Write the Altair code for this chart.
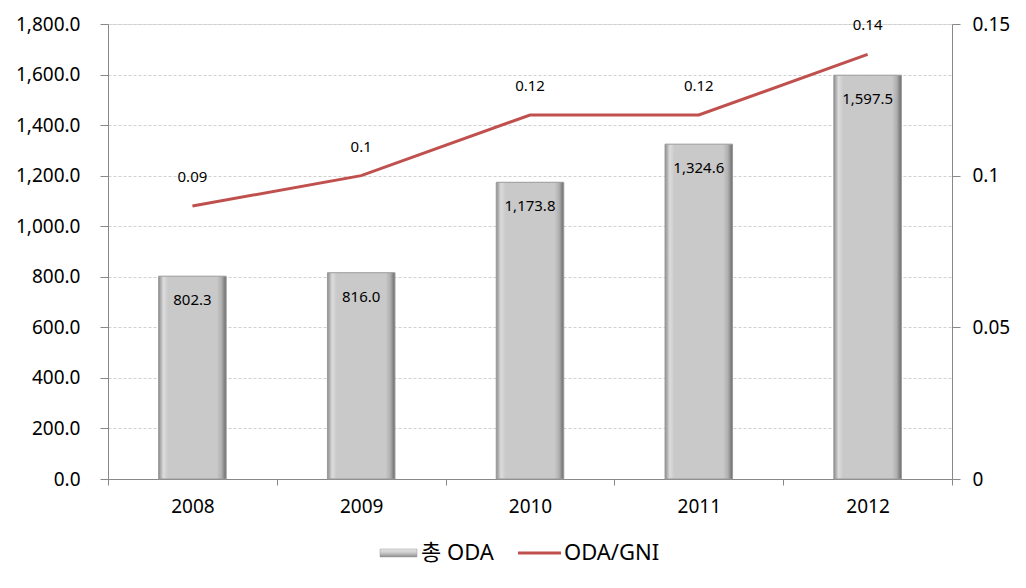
import altair as alt
import pandas as pd

years = ["2008", "2009", "2010", "2011", "2012"]
oda_total = [802.3, 816.0, 1173.8, 1324.6, 1597.5]
oda_gni = [0.09, 0.1, 0.12, 0.12, 0.14]

df = pd.DataFrame({"year": years, "oda": oda_total, "gni": oda_gni})
FONT = "Noto Sans, Noto Sans CJK KR"

x = alt.X("year:N", title=None,
          scale=alt.Scale(paddingInner=0, paddingOuter=0),
          axis=alt.Axis(labelAngle=0, labelFontSize=19, labelFont=FONT, labelColor="#000",
                        domainColor="#888", tickColor="#888", tickSize=6, tickBand="extent",
                        labelPadding=12, grid=False))

grad = alt.Gradient(gradient="linear", x1=0, x2=1, y1=0, y2=0, stops=[
    alt.GradientStop(offset=0, color="#8c8c8c"),
    alt.GradientStop(offset=0.07, color="#dcdcdc"),
    alt.GradientStop(offset=0.14, color="#c9c9c9"),
    alt.GradientStop(offset=0.86, color="#c9c9c9"),
    alt.GradientStop(offset=0.93, color="#b0b0b0"),
    alt.GradientStop(offset=1, color="#6a6a6a"),
])

yl = alt.Y("oda:Q", title=None,
           scale=alt.Scale(domain=[0, 1800], nice=False),
           axis=alt.Axis(values=list(range(0, 1801, 200)), format=",.1f", labelFontSize=19,
                         labelFont=FONT, labelColor="#000", domainColor="#888", tickColor="#888",
                         tickSize=8, gridColor="#d0d0d0", gridDash=[3, 2], labelPadding=20,
                         minExtent=95, maxExtent=95))

bars = alt.Chart(df).mark_bar(color=grad, stroke="#9a9a9a", strokeWidth=1,
                              width=alt.RelativeBandSize(0.4)).encode(x=x, y=yl)
bar_text = alt.Chart(df).mark_text(dy=24, baseline="middle", fontSize=15, font=FONT, color="#000").encode(
    x=x, y=alt.Y("oda:Q"), text=alt.Text("oda:Q", format=",.1f"))
left = alt.layer(bars, bar_text)

yr = alt.Y("gni:Q", title=None,
           scale=alt.Scale(domain=[0, 0.15], nice=False, zero=True),
           axis=alt.Axis(orient="right", values=[0, 0.05, 0.1, 0.15], format="~g", labelFontSize=19,
                         labelFont=FONT, labelColor="#000", domainColor="#888", tickColor="#888",
                         tickSize=8, grid=False, labelPadding=12))

line = alt.Chart(df).mark_line(color="#c0504d", strokeWidth=3).encode(x=x, y=yr)
line_text = alt.Chart(df).mark_text(dy=-29, baseline="middle", fontSize=15, font=FONT, color="#000").encode(
    x=x, y=alt.Y("gni:Q"), text=alt.Text("gni:Q", format="~g"))
right = alt.layer(line, line_text)

leg = pd.DataFrame({"a": [1]})
sw = alt.Chart(leg).mark_rect(color=alt.Gradient(gradient="linear", x1=0, x2=0, y1=0, y2=1, stops=[
    alt.GradientStop(offset=0, color="#e8e8e8"),
    alt.GradientStop(offset=0.5, color="#c9c9c9"),
    alt.GradientStop(offset=1, color="#8c8c8c")]), stroke="#999", strokeWidth=0.5).encode(
    x=alt.value(272), x2=alt.value(309), y=alt.value(525), y2=alt.value(533))
t1 = alt.Chart(leg).mark_text(align="left", baseline="middle", fontSize=22, font=FONT, color="#000").encode(
    x=alt.value(313), y=alt.value(529), text=alt.value("총 ODA"))
ln = alt.Chart(leg).mark_rule(color="#c0504d", strokeWidth=3).encode(
    x=alt.value(410), x2=alt.value(453), y=alt.value(529))
t2 = alt.Chart(leg).mark_text(align="left", baseline="middle", fontSize=22, font=FONT, color="#000").encode(
    x=alt.value(456), y=alt.value(529), text=alt.value("ODA/GNI"))

chart = alt.layer(left, right, sw, t1, ln, t2).resolve_scale(y="independent").properties(
    width=844, height=455,
    autosize=alt.AutoSizeParams(type="none"),
    padding={"left": 100, "top": 16, "right": 66, "bottom": 101},
).configure_view(stroke=None).configure(background="white")

chart.save("out.html", embed_options={"renderer": "svg", "actions": False})
